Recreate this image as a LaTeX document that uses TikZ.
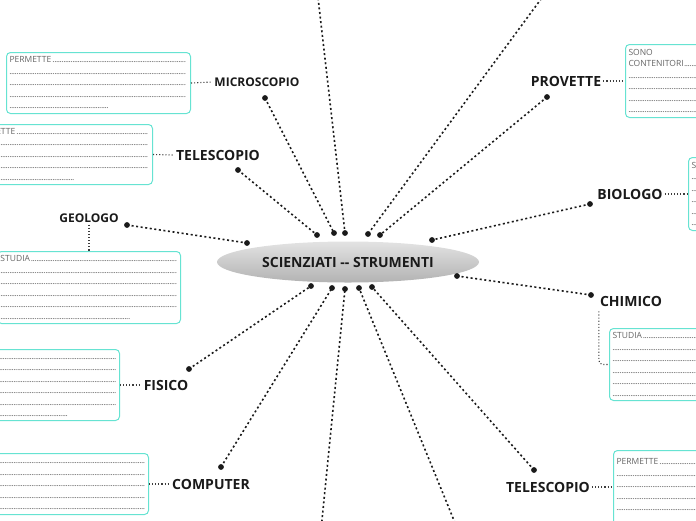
\documentclass[tikz,border=0pt]{standalone}
\usepackage{fontspec}
\setmainfont{Open Sans}
\usetikzlibrary{arrows.meta,shapes.geometric}
\definecolor{mapteal}{HTML}{66E3D2}
\definecolor{mapink}{HTML}{1A1A1A}
\definecolor{mapgrey}{HTML}{666666}
\newcommand{\dotrule}{\leavevmode\leaders\hbox to 1.8pt{\hss.\hss}\hfill\null}
\newcommand{\dotpart}[1]{\leavevmode\hbox to #1{\leaders\hbox to 1.8pt{\hss.\hss}\hfill}}

\begin{document}
\begin{tikzpicture}[x=1pt,y=-1pt,
  hub/.style={ellipse,minimum width=262pt,minimum height=41pt,inner sep=0pt,
    top color=gray!22,middle color=gray!4,bottom color=gray!60,
    font=\fontsize{14}{16}\selectfont\bfseries,text=mapink},
  topic/.style={font=\fontsize{14}{16}\selectfont\bfseries,text=mapink,inner sep=2pt},
  minor/.style={topic,font=\fontsize{12}{14}\selectfont\bfseries},
  note/.style={draw=mapteal,line width=1pt,fill=white,rounded corners=4pt,
    anchor=north west,align=left,inner sep=3pt,
    font=\fontsize{8.5}{11.5}\selectfont,text=mapgrey},
  spoke/.style={line width=1.6pt,dash pattern=on 2pt off 2.6pt,mapink},
  knob/.style={fill=mapink},
  twig/.style={line width=1.1pt,dotted,mapink!85}]

  \useasboundingbox (0,0) rectangle (696,520);
  \clip (0,0) rectangle (696,520);

  % centre
  \node[hub] (hub) at (348,262) {SCIENZIATI {-}{-} STRUMENTI};

  % topics
  \node[minor] (micro) at (257,82) {MICROSCOPIO};
  \node[topic] (teleA) at (218,155) {TELESCOPIO};
  \node[topic] (prov) at (566,81) {PROVETTE};
  \node[topic] (bio) at (630,194) {BIOLOGO};
  \node[minor] (geo) at (89,218) {GEOLOGO};
  \node[topic] (chim) at (631,301) {CHIMICO};
  \node[topic] (fis) at (166,385) {FISICO};
  \node[topic] (comp) at (211,484) {COMPUTER};
  \node[topic] (teleB) at (548,487) {TELESCOPIO};

  % notes
  \node[note,text width=178pt,minimum height=61pt] (noteMicro) at (6,52)
    {\vphantom{P}PERMETTE\dotrule\\\dotrule\\\dotrule\\\dotrule\\\dotpart{100pt}};
  \node[note,text width=176pt,minimum height=60pt] (noteTeleA) at (-30,124)
    {\vphantom{P}PERMETTE\dotrule\\\dotrule\\\dotrule\\\dotrule\\\dotpart{101pt}};
  \node[note,text width=174pt,minimum height=73pt] (noteProv) at (625,44)
    {\vphantom{P}SONO\\CONTENITORI\dotrule\\\dotrule\\\dotrule\\\dotrule\\\dotrule};
  \node[note,text width=174pt,minimum height=73pt] (noteBio) at (688,157)
    {\vphantom{P}STUDIA\dotrule\\\dotrule\\\dotrule\\\dotrule\\\dotrule\\\dotrule};
  \node[note,text width=177pt,minimum height=72pt] (noteGeo) at (-3,251)
    {\vphantom{P}STUDIA\dotrule\\\dotrule\\\dotrule\\\dotrule\\\dotrule\\\dotpart{130pt}};
  \node[note,text width=174pt,minimum height=72pt] (noteChim) at (609,328)
    {\vphantom{P}STUDIA\dotrule\\\dotrule\\\dotrule\\\dotrule\\\dotrule\\\dotrule};
  \node[note,text width=173pt,minimum height=71pt] (noteFis) at (-60,349)
    {\vphantom{P}\dotrule\\\dotrule\\\dotrule\\\dotrule\\\dotrule\\\dotpart{125pt}};
  \node[note,text width=202pt,minimum height=61pt] (noteComp) at (-60,453)
    {\vphantom{P}\dotrule\\\dotrule\\\dotrule\\\dotrule\\\dotrule};
  \node[note,text width=174pt,minimum height=80pt] (noteTeleB) at (613,450)
    {\vphantom{P}PERMETTE\dotrule\\\dotrule\\\dotrule\\\dotrule\\\dotrule\\\dotrule};

  \draw[twig] (noteMicro.east) -- (micro.west);
  \draw[twig] (noteTeleA.east) -- (teleA.west);
  \draw[twig] (prov.east) -- (noteProv.west);
  \draw[twig] (bio.east) -- (noteBio.west);
  \draw[twig] (geo.south) -- (geo.south |- noteGeo.north);
  \draw[twig,rounded corners=4pt] ([xshift=1pt,yshift=-3pt]chim.south west) |- (noteChim.west);
  \draw[twig] (noteFis.east) -- (fis.west);
  \draw[twig] (noteComp.east) -- (comp.west);
  \draw[twig] (teleB.east) -- (teleB.east -| noteTeleB.west);

  % spoke ends
  \coordinate (hN1) at (317,235);
  \coordinate (hN2) at (334,233);
  \coordinate (hN3) at (345,233);
  \coordinate (hN4) at (368,234);
  \coordinate (hN5) at (380,235);
  \coordinate (hW) at (247,243);
  \coordinate (hNE) at (432,240);
  \coordinate (hSE) at (457,276);
  \coordinate (hS1) at (311,286);
  \coordinate (hS2) at (332,288);
  \coordinate (hS3) at (345,289);
  \coordinate (hS4) at (359,288);
  \coordinate (hS5) at (372,287);
  \coordinate (microDot) at (265,98);
  \coordinate (teleADot) at (238,170);
  \coordinate (provDot) at (547,97);
  \coordinate (bioDot) at (590,204);
  \coordinate (geoDot) at (127,225);
  \coordinate (chimDot) at (591,295);
  \coordinate (fisDot) at (189,369);
  \coordinate (compDot) at (221,467);
  \coordinate (teleBDot) at (534,470);
  \coordinate (upA) at (316,-20);
  \coordinate (upB) at (555,-20);
  \coordinate (downA) at (320,540);
  \coordinate (downB) at (462,540);

  \draw[spoke] (microDot) -- (hN2);
  \draw[spoke] (teleADot) -- (hN1);
  \draw[spoke] (upA) -- (hN3);
  \draw[spoke] (upB) -- (hN4);
  \draw[spoke] (provDot) -- (hN5);
  \draw[spoke] (bioDot) -- (hNE);
  \draw[spoke] (geoDot) -- (hW);
  \draw[spoke] (chimDot) -- (hSE);
  \draw[spoke] (fisDot) -- (hS1);
  \draw[spoke] (compDot) -- (hS2);
  \draw[spoke] (downA) -- (hS3);
  \draw[spoke] (downB) -- (hS4);
  \draw[spoke] (teleBDot) -- (hS5);

  \foreach \p in {hN1,hN2,hN3,hN4,hN5,hW,hNE,hSE,hS1,hS2,hS3,hS4,hS5,
                  microDot,teleADot,provDot,bioDot,geoDot,chimDot,fisDot,compDot,teleBDot}
    \fill[knob] (\p) circle (2.9pt);
\end{tikzpicture}
\end{document}
